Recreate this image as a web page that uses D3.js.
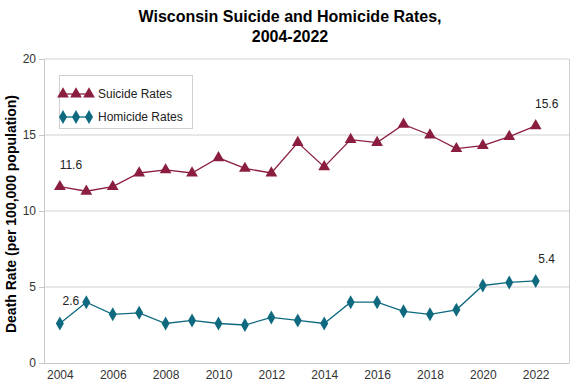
<!DOCTYPE html>
<html lang="en">
<head>
  <meta charset="UTF-8">
  <title>Wisconsin Suicide and Homicide Rates</title>
  <style>
    body { margin: 0; background: #fff; font-family: "Liberation Sans", Arial, sans-serif; }
    svg { display: block; }
  </style>
</head>
<body>
  <svg width="576" height="384"></svg>
  <script src="https://d3js.org/d3.v7.min.js"></script>
  <script>
    const years = [2004, 2005, 2006, 2007, 2008, 2009, 2010, 2011, 2012, 2013, 2014, 2015, 2016, 2017, 2018, 2019, 2020, 2021, 2022];
    const suicideRates = [11.6, 11.3, 11.6, 12.5, 12.7, 12.5, 13.5, 12.8, 12.5, 14.5, 12.9, 14.7, 14.5, 15.7, 15.0, 14.1, 14.3, 14.9, 15.6];
    const homicideRates = [2.6, 4.0, 3.2, 3.3, 2.6, 2.8, 2.6, 2.5, 3.0, 2.8, 2.6, 4.0, 4.0, 3.4, 3.2, 3.5, 5.1, 5.3, 5.4];
    const yTicks = [0, 5, 10, 15, 20];
    const xTicks = [2004, 2006, 2008, 2010, 2012, 2014, 2016, 2018, 2020, 2022];

    const svg = d3.select("svg");
    const margin = { left: 44, right: 7, top: 59, bottom: 21 };
    const width = 576, height = 384;

    const x = d3.scaleLinear().domain([2003.4, 2023.26]).range([margin.left, width - margin.right]);
    const y = d3.scaleLinear().domain([0, 20]).range([height - margin.bottom, margin.top]);

    const suicideColor = "#8b1e3f";
    const homicideColor = "#0f6a80";

    // title
    const title = svg.append("text")
      .attr("text-anchor", "middle")
      .attr("font-weight", "bold")
      .attr("font-size", "16px")
      .attr("fill", "#000");
    title.append("tspan").attr("x", 290).attr("y", 22).text("Wisconsin Suicide and Homicide Rates,");
    title.append("tspan").attr("x", 290).attr("y", 42).text("2004-2022");

    // gridlines
    svg.append("g").selectAll("line")
      .data(yTicks.filter(d => d > 0))
      .enter().append("line")
      .attr("x1", x.range()[0]).attr("x2", x.range()[1])
      .attr("y1", d => y(d)).attr("y2", d => y(d))
      .attr("stroke", "#d0d0d0").attr("stroke-width", 1);

    // right border
    svg.append("line")
      .attr("x1", x.range()[1] + 0.5).attr("x2", x.range()[1] + 0.5)
      .attr("y1", y(20)).attr("y2", y(0))
      .attr("stroke", "#d0d0d0");

    // y axis
    const yAxis = svg.append("g")
      .attr("transform", `translate(${margin.left},0)`)
      .call(d3.axisLeft(y).tickValues(yTicks).tickSize(5).tickPadding(3));
    yAxis.select(".domain").attr("stroke", "#c8c8c8");
    yAxis.selectAll(".tick line").attr("stroke", "#c8c8c8");
    yAxis.selectAll("text").attr("font-size", "12px").attr("fill", "#333").attr("font-family", "Liberation Sans, Arial, sans-serif");

    // x axis
    const xAxis = svg.append("g")
      .attr("transform", `translate(0,${y(0)})`)
      .call(d3.axisBottom(x).tickValues(xTicks).tickFormat(d3.format("d")).tickSize(0).tickPadding(7));
    xAxis.select(".domain").attr("stroke", "#c8c8c8");
    xAxis.selectAll("text").attr("font-size", "12px").attr("fill", "#333").attr("font-family", "Liberation Sans, Arial, sans-serif");

    // y axis title
    svg.append("text")
      .attr("transform", `translate(16,${(y(0) + y(20)) / 2 + 3}) rotate(-90)`)
      .attr("text-anchor", "middle")
      .attr("font-weight", "bold")
      .attr("font-size", "14px")
      .text("Death Rate (per 100,000 population)");

    const triangle = d3.symbol().type(d3.symbolTriangle).size(60);
    const diamond = "M0,-7L4,0L0,7L-4,0Z";

    const line = d3.line().x((d, i) => x(years[i])).y(d => y(d));

    function drawSeries(values, color, shape) {
      svg.append("path")
        .datum(values)
        .attr("d", line)
        .attr("fill", "none")
        .attr("stroke", color)
        .attr("stroke-width", 1.3);
      svg.append("g").selectAll("path")
        .data(values)
        .enter().append("path")
        .attr("d", shape)
        .attr("transform", (d, i) => `translate(${x(years[i])},${y(d)})`)
        .attr("fill", color);
    }

    drawSeries(suicideRates, suicideColor, triangle());
    drawSeries(homicideRates, homicideColor, diamond);

    // data labels at first and last points
    const labels = [
      { v: suicideRates[0], i: 0 },
      { v: suicideRates[suicideRates.length - 1], i: years.length - 1 },
      { v: homicideRates[0], i: 0 },
      { v: homicideRates[homicideRates.length - 1], i: years.length - 1 }
    ];
    svg.append("g").selectAll("text")
      .data(labels)
      .enter().append("text")
      .attr("x", d => x(years[d.i]) + 11)
      .attr("y", d => y(d.v) - 18)
      .attr("text-anchor", "middle")
      .attr("font-size", "12px")
      .attr("fill", "#222")
      .text(d => d.v.toFixed(1));

    // legend
    const legend = svg.append("g");
    legend.append("rect")
      .attr("x", 59.5).attr("y", 75.5).attr("width", 133).attr("height", 53)
      .attr("fill", "#fff").attr("stroke", "#d0d0d0");
    const legendItems = [
      { name: "Suicide Rates", color: suicideColor, shape: triangle() },
      { name: "Homicide Rates", color: homicideColor, shape: diamond }
    ];
    legendItems.forEach((item, k) => {
      const ly = 94 + k * 23;
      legend.append("line")
        .attr("x1", 63).attr("x2", 89).attr("y1", ly).attr("y2", ly)
        .attr("stroke", item.color).attr("stroke-width", 1.3);
      [63, 76, 89].forEach(mx => {
        legend.append("path")
          .attr("d", item.shape)
          .attr("transform", `translate(${mx},${ly})`)
          .attr("fill", item.color);
      });
      legend.append("text")
        .attr("x", 98).attr("y", ly + 4)
        .attr("font-size", "12px")
        .attr("fill", "#222")
        .text(item.name);
    });
  </script>
</body>
</html>
